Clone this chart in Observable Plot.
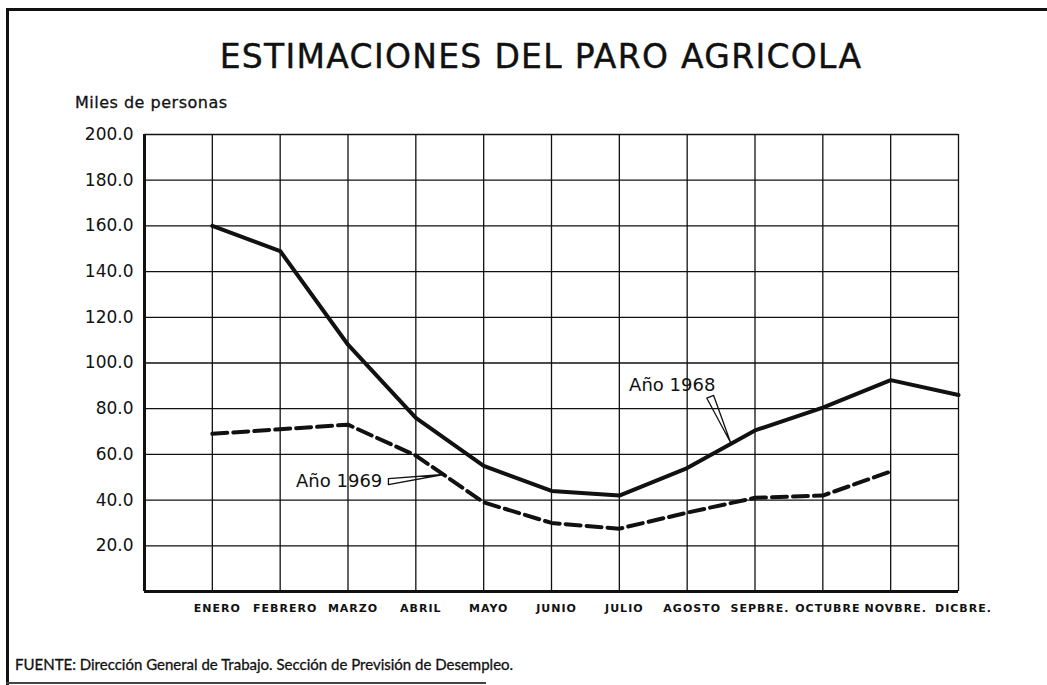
<!DOCTYPE html>
<html>
<head>
<meta charset="utf-8">
<script src="https://cdn.jsdelivr.net/npm/d3@7"></script>
<script src="https://cdn.jsdelivr.net/npm/@observablehq/plot@0.6"></script>
<style>
  html, body { margin: 0; padding: 0; background: #fff; }
  #wrap { position: relative; width: 1047px; height: 685px; overflow: hidden; background: #fff; font-family: "DejaVu Sans", sans-serif; color: #111; }
  #wrap svg { position: absolute; left: 0; top: 0; }
  .abs { position: absolute; white-space: nowrap; }
  #title { left: 0; width: 1082px; top: 37px; text-align: center; font-size: 33px; letter-spacing: 1.3px; -webkit-text-stroke: 0.4px #111; }
  #ylab { left: 75px; top: 93px; font-size: 16px; letter-spacing: 0.5px; -webkit-text-stroke: 0.3px #111; }
  #foot { left: 15px; top: 655px; font-size: 15px; letter-spacing: 0px; font-family: Lato, sans-serif; -webkit-text-stroke: 0.3px #111; }
  .ln { position: absolute; background: #111; }
  .xax text { letter-spacing: 1px; }
</style>
</head>
<body>
<div id="wrap">
  <div class="ln" style="left:6px;top:8px;width:1041px;height:3px;"></div>
  <div class="ln" style="left:6px;top:8px;width:3px;height:677px;"></div>
  <div class="ln" style="left:6px;top:682px;width:480px;height:2px;background:#444;"></div>
  <div id="title" class="abs">ESTIMACIONES DEL PARO AGRICOLA</div>
  <div id="ylab" class="abs">Miles de personas</div>
  <div id="foot" class="abs">FUENTE: Dirección General de Trabajo. Sección de Previsión de Desempleo.</div>
</div>
<script>
const months = ["ENERO","FEBRERO","MARZO","ABRIL","MAYO","JUNIO","JULIO","AGOSTO","SEPBRE.","OCTUBRE","NOVBRE.","DICBRE."];
const values1968 = [160, 149, 108, 76, 55, 44, 42, 54, 70.5, 80.5, 92.5, 86];
const values1969 = [69, 71, 73, 59.5, 39, 30, 27.5, 34.5, 41, 42, 52.5];
const yTicks = [20, 40, 60, 80, 100, 120, 140, 160, 180, 200];
const monthIdx = months.map((m, i) => i + 1);

const labels = [
  {x: 7.78, y: 90.2, text: "Año 1968"},
  {x: 2.87, y: 48.1, text: "Año 1969"}
];
const pointer1968 = [[8.29, 84.6], [8.64, 65.2], [8.39, 85.8], [8.29, 84.6]];
const pointer1969 = [[3.596, 49.4], [4.407, 51.2], [3.596, 46.8], [3.596, 49.4]];

const d68 = values1968.map((v, i) => ({x: i + 1, y: v}));
const d69 = values1969.map((v, i) => ({x: i + 1, y: v}));

const chart = Plot.plot({
  width: 1047,
  height: 685,
  marginLeft: 144,
  marginRight: 89,
  marginTop: 134,
  marginBottom: 94,
  style: {fontFamily: "DejaVu Sans, sans-serif", color: "#111", background: "transparent", overflow: "visible"},
  x: {domain: [0, 12]},
  y: {domain: [0, 200]},
  marks: [
    Plot.ruleY(yTicks, {stroke: "#111", strokeWidth: 1.3}),
    Plot.ruleX(monthIdx, {stroke: "#111", strokeWidth: 1.3}),
    Plot.ruleX([0], {stroke: "#111", strokeWidth: 3}),
    Plot.ruleY([0], {stroke: "#111", strokeWidth: 3}),
    Plot.axisY(yTicks, {tickSize: 0, tickPadding: 11, tickFormat: d => d.toFixed(1), fontSize: 17, label: null}),
    Plot.axisX(monthIdx, {tickSize: 0, tickPadding: 13, tickFormat: i => months[i - 1], fontSize: 11, fontWeight: "bold", dx: 5, label: null, className: "xax"}),
    Plot.line(d68, {x: "x", y: "y", stroke: "#111", strokeWidth: 4, strokeLinejoin: "round"}),
    Plot.line(d69, {x: "x", y: "y", stroke: "#111", strokeWidth: 4, strokeDasharray: "15,6"}),
    Plot.line(pointer1968, {x: d => d[0], y: d => d[1], stroke: "#111", strokeWidth: 1.3}),
    Plot.line(pointer1969, {x: d => d[0], y: d => d[1], stroke: "#111", strokeWidth: 1.3}),
    Plot.text(labels, {x: "x", y: "y", text: "text", fontSize: 18, fill: "#111"})
  ]
});
document.getElementById("wrap").prepend(chart);
</script>
</body>
</html>
